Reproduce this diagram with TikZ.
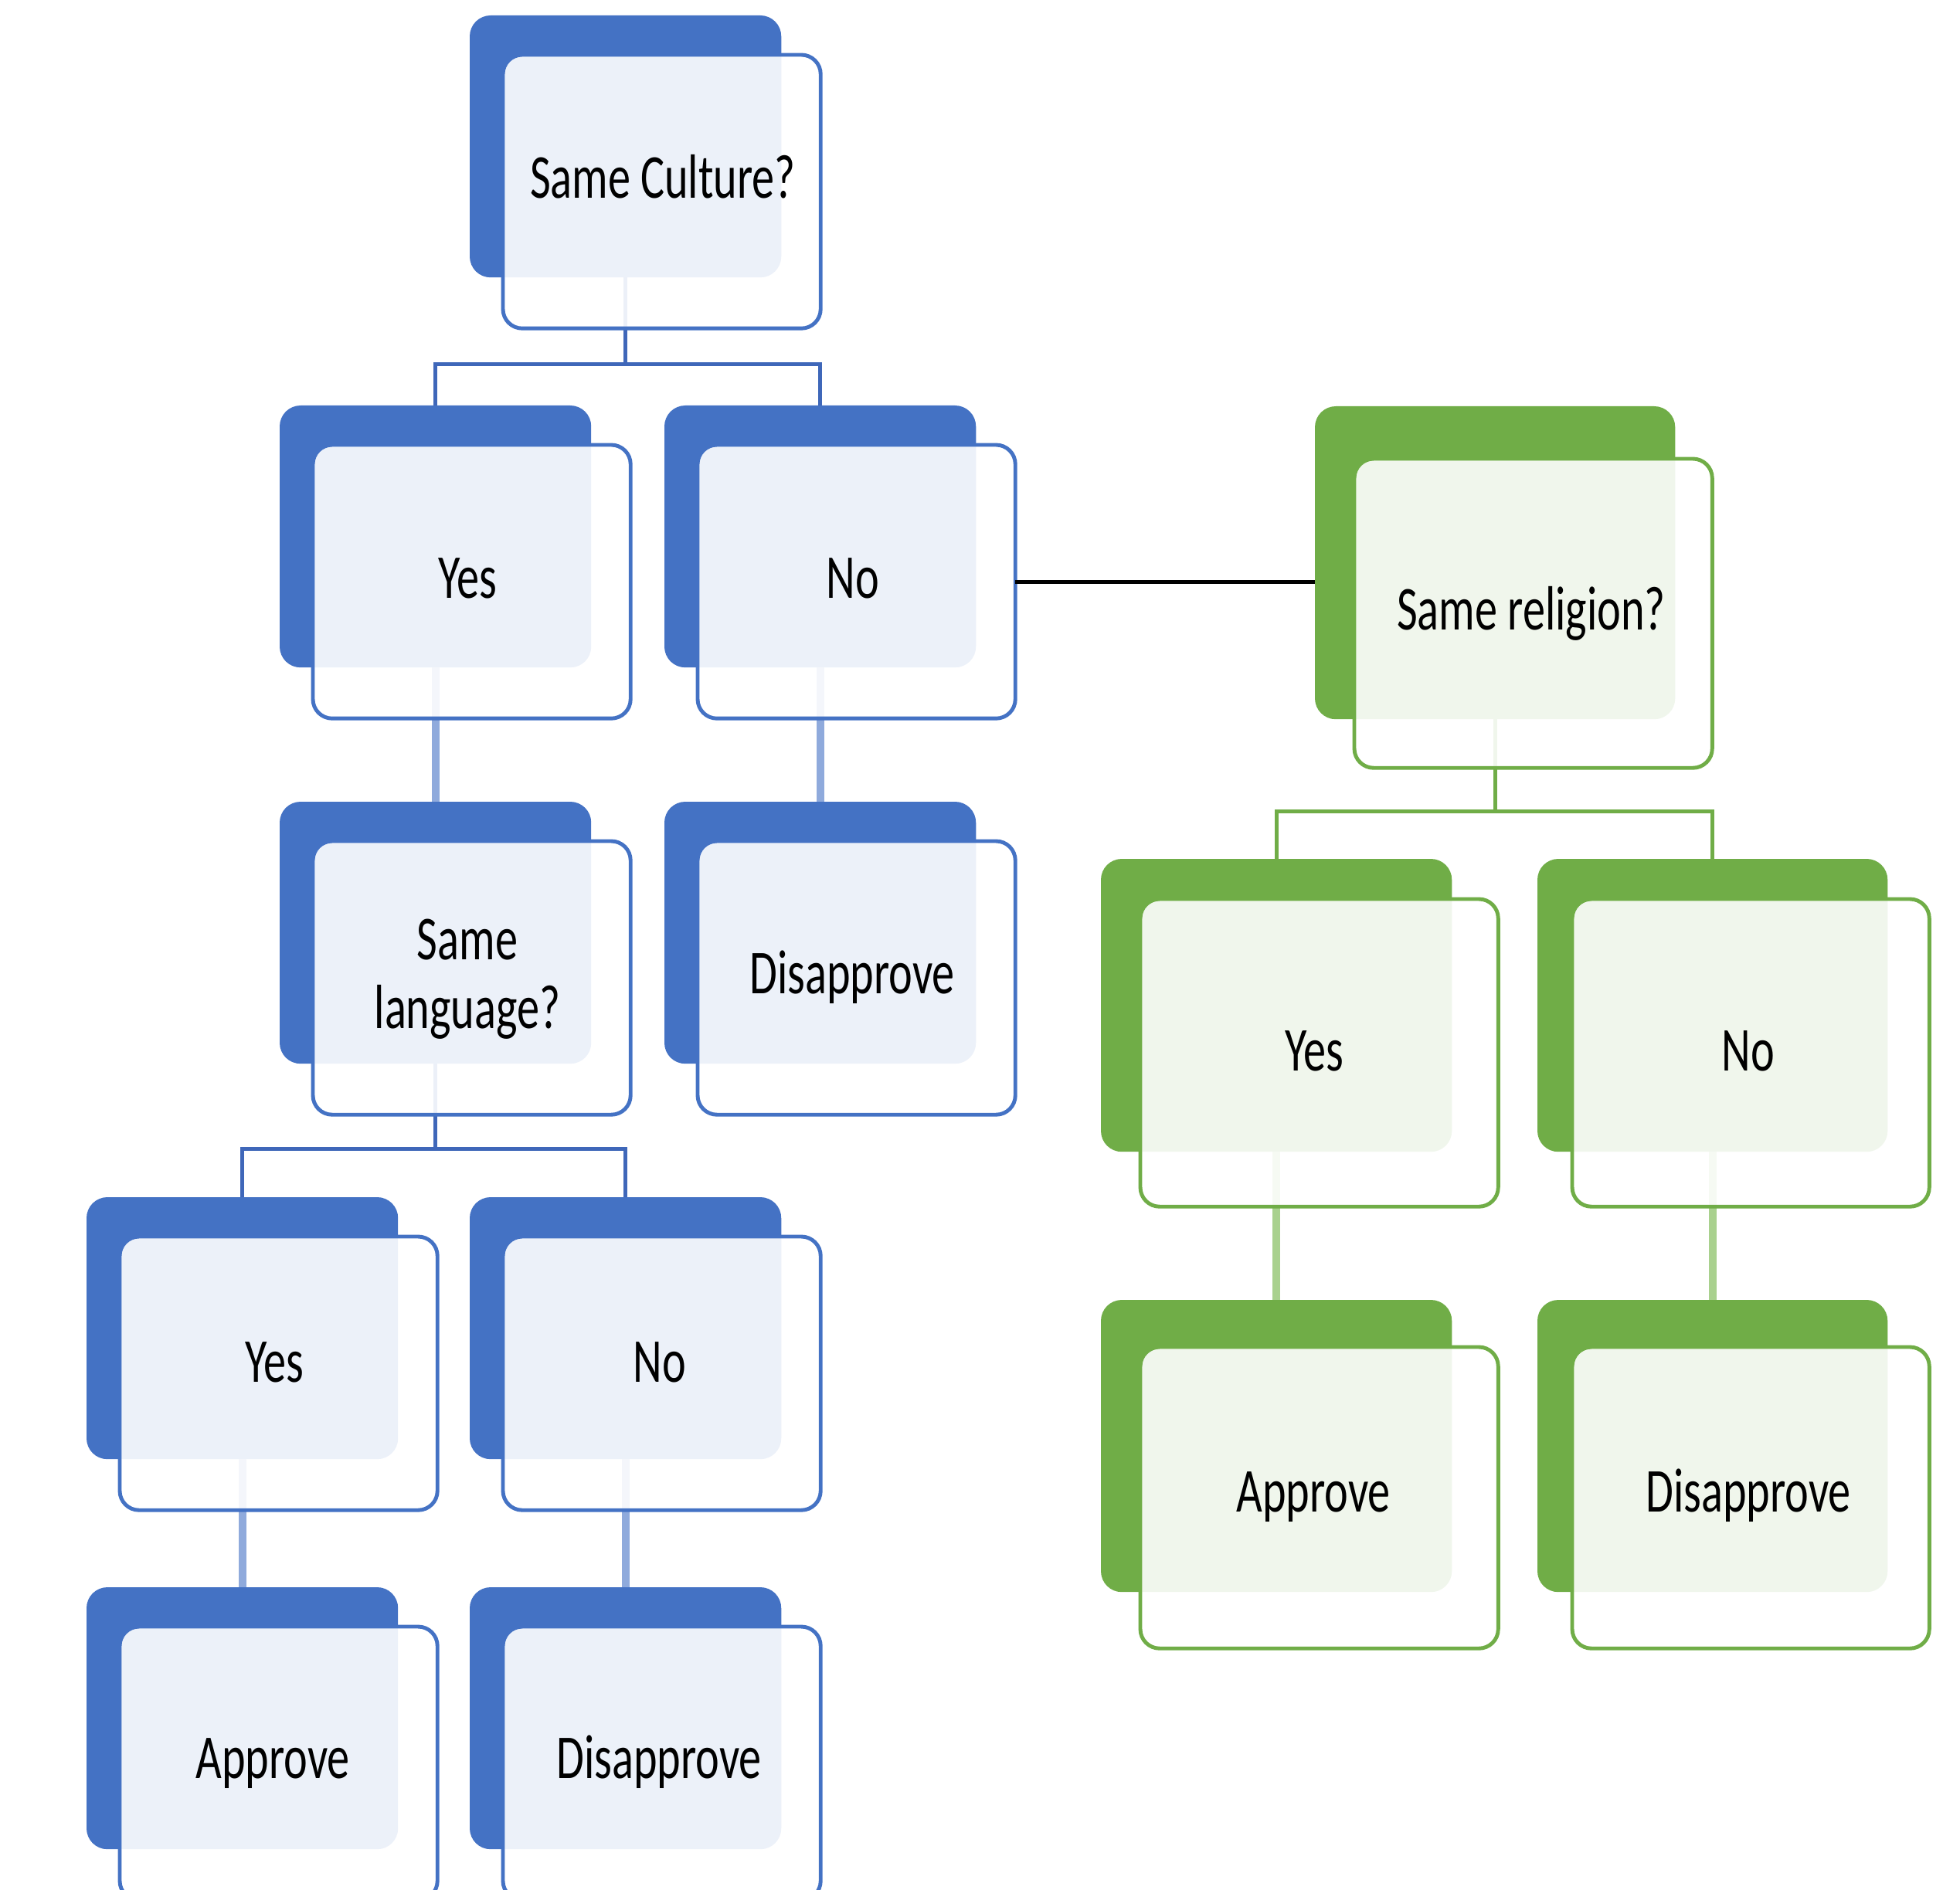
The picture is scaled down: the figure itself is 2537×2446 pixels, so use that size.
\documentclass[tikz,border=0pt]{standalone}
\usepackage{fontspec}
\setmainfont{Carlito}[FakeStretch=0.72]
\definecolor{bl}{HTML}{4472C4}
\definecolor{bldk}{HTML}{3F67B9}
\definecolor{bllt}{HTML}{8FAADC}
\definecolor{gr}{HTML}{70AD47}
\definecolor{grlt}{HTML}{A9D18E}
\tikzset{
  darkbox/.style={rectangle, rounded corners=0.27cm, inner sep=0pt, outer sep=0pt, anchor=north west},
  frontbox/.style={rectangle, rounded corners=0.25cm, inner sep=0pt, outer sep=0pt, anchor=north west, fill=white, fill opacity=0.9, line width=1.4pt},
  lbl/.style={inner sep=0pt, font=\fontsize{23}{25.3}\selectfont, text=black},
  bar/.style={line width=1.4pt},
  single/.style={line width=2.8pt},
  bdark/.style={darkbox, fill=bl, minimum width=4.03cm, minimum height=3.39cm},
  bfront/.style={frontbox, draw=bl, minimum width=4.11cm, minimum height=3.54cm},
  gdark/.style={darkbox, fill=gr},
  gfront/.style={frontbox, draw=gr},
}
\begin{document}
\begin{tikzpicture}[x=0.01cm, y=-0.01cm]
\useasboundingbox (0,0) rectangle (2537,2446);
\clip (0,0) rectangle (2537,2446);
% back (dark) boxes
\node[bdark] (n1b) at (608,20) {};
\node[bdark] (n2b) at (362,525) {};
\node[bdark] (n3b) at (860,525) {};
\node[bdark] (n4b) at (362,1038) {};
\node[bdark] (n5b) at (860,1038) {};
\node[bdark] (n6b) at (112,1550) {};
\node[bdark] (n7b) at (608,1550) {};
\node[bdark] (n8b) at (112,2055) {};
\node[bdark] (n9b) at (608,2055) {};
\node[gdark, minimum width=4.66cm, minimum height=4.05cm] (g1b) at (1702,526) {};
\node[gdark, minimum width=4.54cm, minimum height=3.79cm] (g2b) at (1425,1112) {};
\node[gdark, minimum width=4.53cm, minimum height=3.79cm] (g3b) at (1990,1112) {};
\node[gdark, minimum width=4.54cm, minimum height=3.78cm] (g4b) at (1425,1683) {};
\node[gdark, minimum width=4.53cm, minimum height=3.78cm] (g5b) at (1990,1683) {};
% connectors (behind the front boxes)
\draw[bar, draw=bldk] (n1b.south) -- ++(0,112) coordinate (j1);
\draw[bar, draw=bldk] (n2b.north) |- (j1) -| (n3b.north);
\draw[single, draw=bllt] (n2b.south) -- (n4b.north);
\draw[single, draw=bllt] (n3b.south) -- (n5b.north);
\draw[bar, draw=bldk] (n4b.south) -- ++(0,110) coordinate (j2);
\draw[bar, draw=bldk] (n6b.north) |- (j2) -| (n7b.north);
\draw[single, draw=bllt] (n6b.south) -- (n8b.north);
\draw[single, draw=bllt] (n7b.south) -- (n9b.north);
\draw[bar, draw=gr] (g1b.south) -- ++(0,119) coordinate (j3);
\draw[bar, draw=gr] (g2b.north) |- (j3) -| (g3b.north);
\draw[single, draw=grlt] (g2b.south) -- (g4b.north);
\draw[single, draw=grlt] (g3b.south) -- (g5b.north);
% front boxes
\node[bfront] (n1f) at (651,71) {};
\node[bfront] (n2f) at (405,576) {};
\node[bfront] (n3f) at (903,576) {};
\node[bfront] (n4f) at (405,1089) {};
\node[bfront] (n5f) at (903,1089) {};
\node[bfront] (n6f) at (155,1601) {};
\node[bfront] (n7f) at (651,1601) {};
\node[bfront] (n8f) at (155,2106) {};
\node[bfront] (n9f) at (651,2106) {};
\node[gfront, minimum width=4.63cm, minimum height=4.00cm] (g1f) at (1753,594) {};
\node[gfront, minimum width=4.63cm, minimum height=3.98cm] (g2f) at (1476,1164) {};
\node[gfront, minimum width=4.62cm, minimum height=3.98cm] (g3f) at (2035,1164) {};
\node[gfront, minimum width=4.63cm, minimum height=3.90cm] (g4f) at (1476,1744) {};
\node[gfront, minimum width=4.62cm, minimum height=3.90cm] (g5f) at (2035,1744) {};
% link between the trees
\draw[line width=1.4pt] (n3f.east) -- (n3f.east -| g1b.west);
% labels
\node[lbl, anchor=base] (n1t) at (858,257) {Same Culture?};
\node[lbl, anchor=base] (n2t) at (605,774) {Yes};
\node[lbl, anchor=base] (n3t) at (1104,774) {No};
\node[lbl, align=center] (n4t) at (605,1268) {Same\\language?};
\node[lbl, anchor=base] (n5t) at (1103,1286) {Disapprove};
\node[lbl, anchor=base] (n6t) at (355,1789) {Yes};
\node[lbl, anchor=base] (n7t) at (854,1789) {No};
\node[lbl, anchor=base] (n8t) at (353,2302) {Approve};
\node[lbl, anchor=base] (n9t) at (853,2302) {Disapprove};
\node[lbl, anchor=base] (g1t) at (1982,815) {Same religion?};
\node[lbl, anchor=base] (g2t) at (1701,1386) {Yes};
\node[lbl, anchor=base] (g3t) at (2263,1386) {No};
\node[lbl, anchor=base] (g4t) at (1700,1957) {Approve};
\node[lbl, anchor=base] (g5t) at (2263,1957) {Disapprove};
\end{tikzpicture}
\end{document}
